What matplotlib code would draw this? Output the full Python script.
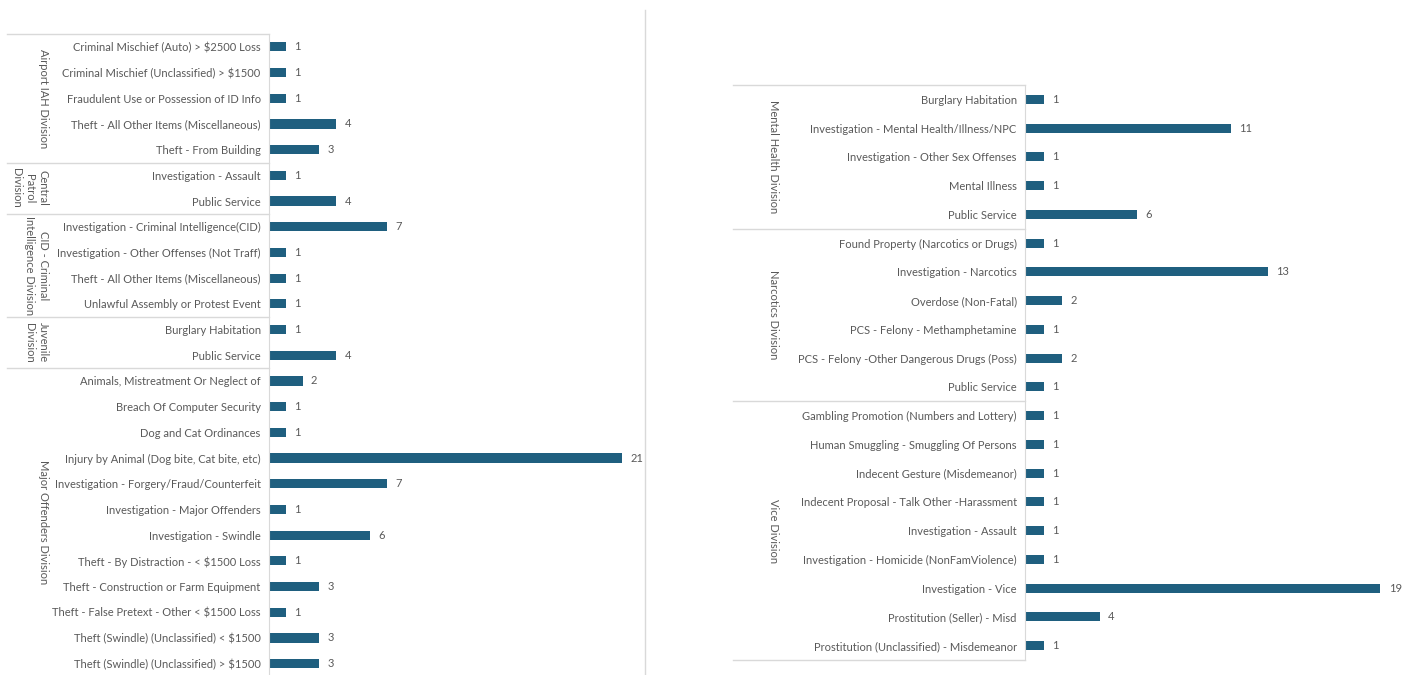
import matplotlib
matplotlib.use("Agg")
import matplotlib.pyplot as plt
import matplotlib.transforms as mtransforms

plt.rcParams['font.family'] = ['Lato', 'DejaVu Sans']

BAR = '#1f5f7f'
TXT = '#595959'
GRID = '#d9d9d9'
W, H = 1416, 675

# left panel
left_groups = ['Airport IAH Division', 'Central\nPatrol\nDivision',
               'CID - Criminal\nIntelligence Division', 'Juvenile\nDivision',
               'Major Offenders Division']
left_sizes = [5, 2, 4, 2, 12]
left_cats = [
    'Criminal Mischief (Auto) > $2500 Loss',
    'Criminal Mischief (Unclassified) > $1500',
    'Fraudulent Use or Possession of ID Info',
    'Theft - All Other Items (Miscellaneous)',
    'Theft - From Building',
    'Investigation - Assault',
    'Public Service',
    'Investigation - Criminal Intelligence(CID)',
    'Investigation - Other Offenses (Not Traff)',
    'Theft - All Other Items (Miscellaneous)',
    'Unlawful Assembly or Protest Event',
    'Burglary Habitation',
    'Public Service',
    'Animals, Mistreatment Or Neglect of',
    'Breach Of Computer Security',
    'Dog and Cat Ordinances',
    'Injury by Animal (Dog bite, Cat bite, etc)',
    'Investigation - Forgery/Fraud/Counterfeit',
    'Investigation - Major Offenders',
    'Investigation - Swindle',
    'Theft - By Distraction - < $1500 Loss',
    'Theft - Construction or Farm Equipment',
    'Theft - False Pretext - Other < $1500 Loss',
    'Theft (Swindle) (Unclassified) < $1500',
    'Theft (Swindle) (Unclassified) > $1500',
]
left_vals = [1, 1, 1, 4, 3, 1, 4, 7, 1, 1, 1, 1, 4,
             2, 1, 1, 21, 7, 1, 6, 1, 3, 1, 3, 3]

# right panel
right_groups = ['Mental Health Division', 'Narcotics Division', 'Vice Division']
right_sizes = [5, 6, 9]
right_cats = [
    'Burglary Habitation',
    'Investigation - Mental Health/Illness/NPC',
    'Investigation - Other Sex Offenses',
    'Mental Illness',
    'Public Service',
    'Found Property (Narcotics or Drugs)',
    'Investigation - Narcotics',
    'Overdose (Non-Fatal)',
    'PCS - Felony - Methamphetamine',
    'PCS - Felony -Other Dangerous Drugs (Poss)',
    'Public Service',
    'Gambling Promotion (Numbers and Lottery)',
    'Human Smuggling - Smuggling Of Persons',
    'Indecent Gesture (Misdemeanor)',
    'Indecent Proposal - Talk Other -Harassment',
    'Investigation - Assault',
    'Investigation - Homicide (NonFamViolence)',
    'Investigation - Vice',
    'Prostitution (Seller) - Misd',
    'Prostitution (Unclassified) - Misdemeanor',
]
right_vals = [1, 11, 1, 1, 6, 1, 13, 2, 1, 2, 1,
              1, 1, 1, 1, 1, 1, 19, 4, 1]


def panel(fig, rect, cats, vals, groups, sizes, xmax, ybot, line_x0, label_x, bar_h):
    ax = fig.add_axes(rect)
    y = list(range(len(cats)))
    ax.barh(y, vals, height=bar_h, color=BAR)
    for yi, v in zip(y, vals):
        ax.annotate(str(v), (v, yi), xytext=(6, 0), textcoords='offset points',
                    va='center', ha='left', fontsize=8, color=TXT)
    ax.set_xlim(0, xmax)
    ax.set_ylim(ybot, -0.5)
    ax.set_yticks(y)
    ax.set_yticklabels(cats, fontsize=8, color=TXT)
    ax.tick_params(axis='y', length=0, pad=6)
    ax.set_xticks([])
    for s in ['top', 'right', 'bottom']:
        ax.spines[s].set_visible(False)
    ax.spines['left'].set_color(GRID)

    tr = mtransforms.blended_transform_factory(fig.transFigure, ax.transData)
    x_axis = rect[0]
    start = -0.5
    ax.plot([line_x0 / W, x_axis], [start, start], transform=tr,
            color=GRID, lw=1, clip_on=False)
    for g, n in zip(groups, sizes):
        end = start + n
        ax.plot([line_x0 / W, x_axis], [end, end], transform=tr,
                color=GRID, lw=1, clip_on=False)
        # first line sits at the right, further lines step to the left
        ax.text(label_x / W, (start + end) / 2, g, transform=tr, rotation=-90,
                ha='right', va='center', multialignment='center',
                linespacing=1.3, fontsize=8, color=TXT)
        start = end
    return ax


fig = plt.figure(figsize=(W / 100, H / 100), dpi=100)

# left panel: rows from y=34px, 25.7 px each
lt, lb = 34, 675
panel(fig, [269 / W, 1 - lb / H, (640 - 269) / W, (lb - lt) / H],
      left_cats, left_vals, left_groups, left_sizes,
      xmax=371 / 16.8, ybot=-0.5 + (lb - lt) / 25.7,
      line_x0=7, label_x=49, bar_h=0.36)

# right panel
rt, rb = 85, 660
panel(fig, [1025 / W, 1 - rb / H, (1410 - 1025) / W, (rb - rt) / H],
      right_cats, right_vals, right_groups, right_sizes,
      xmax=385 / 18.7, ybot=19.5,
      line_x0=733, label_x=779, bar_h=0.32)

# divider between panels
fig.add_artist(plt.Line2D([645 / W, 645 / W], [1 - 10 / H, 0], color=GRID, lw=1))

fig.savefig('out.png', dpi=100)
